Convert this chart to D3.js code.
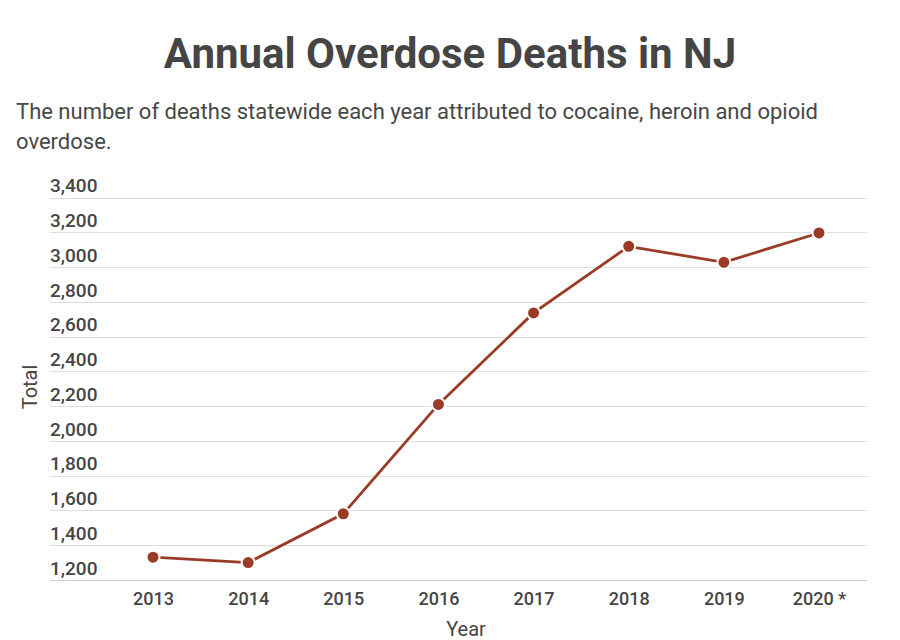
<!DOCTYPE html>
<html>
<head>
<meta charset="utf-8">
<script src="https://cdn.jsdelivr.net/npm/d3@7/dist/d3.min.js"></script>
<style>
  html, body { margin: 0; padding: 0; background: #fff; }
  svg { display: block; font-family: Roboto, "Noto Sans", sans-serif; }
</style>
</head>
<body>
<svg id="chart" width="900" height="640"></svg>
<script>
const years = ["2013", "2014", "2015", "2016", "2017", "2018", "2019", "2020 *"];
const deaths = [1331, 1300, 1581, 2210, 2736, 3119, 3027, 3196];
const yTicks = [1200, 1400, 1600, 1800, 2000, 2200, 2400, 2600, 2800, 3000, 3200, 3400];

const title = "Annual Overdose Deaths in NJ";
const subtitleLines = ["The number of deaths statewide each year attributed to cocaine, heroin and opioid", "overdose."];

const svg = d3.select("#chart");
const W = 900;
const gridLeft = 50, gridRight = 867;
const plotTop = 197.5, plotBottom = 580;

const x = d3.scalePoint().domain(years).range([153, 819]);
const y = d3.scaleLinear().domain([1200, 3400]).range([plotBottom, plotTop]);

const textColor = "#454545";

// Title
svg.append("text")
  .attr("x", W / 2).attr("y", 67.5)
  .attr("text-anchor", "middle")
  .attr("font-size", 42).attr("font-weight", 700)
  .attr("fill", "#454545")
  .text(title);

// Subtitle
subtitleLines.forEach((line, i) => {
  svg.append("text")
    .attr("x", 16).attr("y", 119 + i * 30)
    .attr("font-size", 22).attr("fill", "#474747")
    .text(line);
});

// Gridlines
const grid = svg.append("g");
grid.selectAll("line").data(yTicks).join("line")
  .attr("x1", gridLeft).attr("x2", gridRight)
  .attr("y1", d => Math.round(y(d)) + 0.5).attr("y2", d => Math.round(y(d)) + 0.5)
  .attr("stroke", d => d === 1200 ? "#cfcfcf" : "#dedede")
  .attr("stroke-width", 1.2);

// Y tick labels (above gridlines)
const yAxis = d3.axisLeft(y).tickValues(yTicks).tickFormat(d3.format(",")).tickSize(0);
const yg = svg.append("g").attr("transform", `translate(${gridLeft},0)`).call(yAxis);
yg.select(".domain").remove();
yg.selectAll("text")
  .attr("x", 0).attr("dy", "-0.3em")
  .attr("text-anchor", "start")
  .attr("font-family", "Roboto, sans-serif")
  .attr("font-size", 19).attr("font-weight", 500)
  .attr("fill", textColor);

// X axis labels
const xAxis = d3.axisBottom(x).tickSize(0);
const xg = svg.append("g").attr("transform", `translate(0,${plotBottom})`).call(xAxis);
xg.select(".domain").remove();
xg.selectAll("text")
  .attr("y", 25).attr("dy", 0)
  .attr("font-family", "Roboto, sans-serif")
  .attr("font-size", 18).attr("font-weight", 500)
  .attr("fill", textColor);

// Axis titles
svg.append("text")
  .attr("x", 466).attr("y", 635.5)
  .attr("text-anchor", "middle")
  .attr("font-size", 20).attr("fill", textColor)
  .text("Year");

svg.append("text")
  .attr("transform", "translate(36.5,387) rotate(-90)")
  .attr("text-anchor", "middle")
  .attr("font-size", 20).attr("fill", textColor)
  .text("Total");

// Line
const data = years.map((yr, i) => ({ yr, v: deaths[i] }));
const lineColor = "#9a3b25";
svg.append("path")
  .datum(data)
  .attr("fill", "none")
  .attr("stroke", lineColor)
  .attr("stroke-width", 2.8)
  .attr("d", d3.line().x(d => x(d.yr)).y(d => y(d.v)));

// Dots
svg.append("g").selectAll("circle").data(data).join("circle")
  .attr("cx", d => x(d.yr)).attr("cy", d => y(d.v))
  .attr("r", 6.5)
  .attr("fill", lineColor)
  .attr("stroke", "#fff").attr("stroke-width", 2);
</script>
</body>
</html>
